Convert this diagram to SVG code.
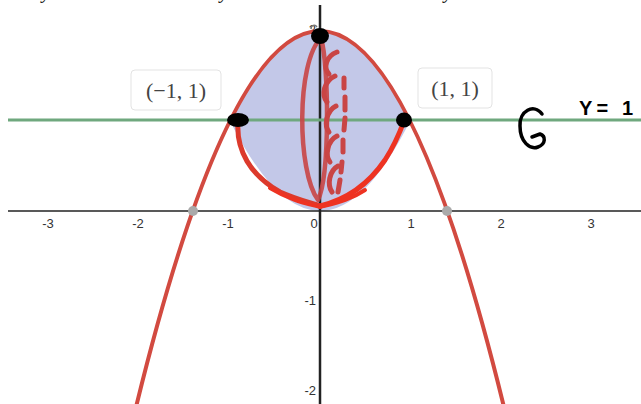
<svg xmlns="http://www.w3.org/2000/svg" width="641" height="404" viewBox="0 0 641 404">
<style>
.tick{font-family:"Liberation Sans",Arial,sans-serif;font-size:13px;fill:#333}
.lbl{font-family:"Liberation Serif","DejaVu Serif",serif;font-size:22px;fill:#444}
.box{fill:#fff;stroke:#e3e3e3;stroke-width:1}
.hand{fill:none;stroke-linecap:round;stroke-linejoin:round}
.dash{fill:none;stroke:#c94545;stroke-width:5;stroke-linecap:round}
</style>
<rect width="641" height="404" fill="#fff"/>
<g id="top-text" font-family="Liberation Serif,serif" font-style="italic" font-size="20" fill="#222">
<text x="42" y="-2">y</text><text x="220" y="-2">y</text><text x="444" y="-2">y</text>
</g>
<g id="region">
<path d="M230,121 Q320,-59 410,121 Q320,301 230,121 Z" fill="#c3c8e8"/>
</g>
<g id="axes">
<line x1="8" y1="211" x2="641" y2="211" stroke="#222" stroke-width="1.5"/>
<line x1="320" y1="5" x2="320" y2="404" stroke="#222" stroke-width="2.5"/>
<text class="tick" x="48" y="228" text-anchor="middle">-3</text>
<text class="tick" x="138" y="228" text-anchor="middle">-2</text>
<text class="tick" x="228" y="228" text-anchor="middle">-1</text>
<text class="tick" x="314" y="228" text-anchor="middle">0</text>
<text class="tick" x="411" y="228" text-anchor="middle">1</text>
<text class="tick" x="501" y="228" text-anchor="middle">2</text>
<text class="tick" x="591" y="228" text-anchor="middle">3</text>
<text class="tick" x="316" y="305" text-anchor="end">-1</text>
<text class="tick" x="316" y="395" text-anchor="end">-2</text>
<text class="tick" x="316" y="34" text-anchor="end">2</text>
</g>
<g id="line-y1">
<line x1="8" y1="120" x2="641" y2="120" stroke="#6fa87e" stroke-width="3"/>
</g>
<g id="parabola">
<path d="M135.5,409.2 Q320,-347.2 504.5,409.2" fill="none" stroke="#d24a40" stroke-width="4"/>
<circle cx="193" cy="211" r="5" fill="#aaa"/>
<circle cx="447" cy="211" r="5" fill="#aaa"/>
</g>
<g id="hand-curve">
<path class="hand" d="M238,122 C236,150 250,175 280,192 C298,200 312,203 320,206" stroke="#dc3a2c" stroke-width="5"/>
<path class="hand" d="M320,206 C345,200 368,185 385,160 C394,146 400,132 404,121" stroke="#ee3322" stroke-width="5"/>
<path class="hand" d="M270,188 C290,200 305,203 320,207 C335,203 350,200 365,190" stroke="#ee3322" stroke-width="4"/>
<path class="hand" d="M321,38 C296,62 297,172 318,200 C330,175 329,65 321,38" stroke="#c94545" stroke-width="4.5" opacity="0.9"/>
<path class="dash" d="M337,52 C326,56 323,68 329,74"/>
<path class="dash" d="M335,76 C324,81 321,95 327,102"/>
<path class="dash" d="M336,106 C326,111 324,126 329,132"/>
<path class="dash" d="M337,136 C327,141 325,156 330,162"/>
<path class="dash" d="M338,166 C329,171 327,185 332,192"/>
<path class="dash" d="M344,78 L344,88"/>
<path class="dash" d="M345,97 L345,110"/>
<path class="dash" d="M345,118 L344,130"/>
<path class="dash" d="M343,140 L343,152"/>
<path class="dash" d="M342,162 L341,172"/>
<path class="dash" d="M340,180 L338,192"/>
</g>
<g id="points">
<ellipse cx="320" cy="36" rx="9" ry="8" fill="#000"/>
<path d="M311,29 C311,25 315,24 317,27" fill="none" stroke="#777" stroke-width="1.5"/>
<ellipse cx="238" cy="120" rx="11" ry="7" fill="#000"/>
<ellipse cx="404" cy="120" rx="8" ry="7.5" fill="#000"/>
</g>
<g id="label-left">
<rect class="box" x="131" y="70" width="90" height="40" rx="4"/>
<text class="lbl" x="176" y="98" text-anchor="middle">(−1, 1)</text>
</g>
<g id="label-right">
<rect class="box" x="418" y="68" width="74" height="40" rx="4"/>
<text class="lbl" x="455" y="96" text-anchor="middle">(1, 1)</text>
</g>
<g id="rotation">
<path class="hand" d="M542,114 C534,103 519,111 520,126 C520,142 530,150 538,147 C546,144 546,136 540,134 L532,137" stroke="#000" stroke-width="3.5"/>
<text x="579" y="115" font-family="Liberation Sans,Arial,sans-serif" font-size="20" font-weight="bold" fill="#000" textLength="54" lengthAdjust="spacing">Y= 1</text>
</g>
</svg>
